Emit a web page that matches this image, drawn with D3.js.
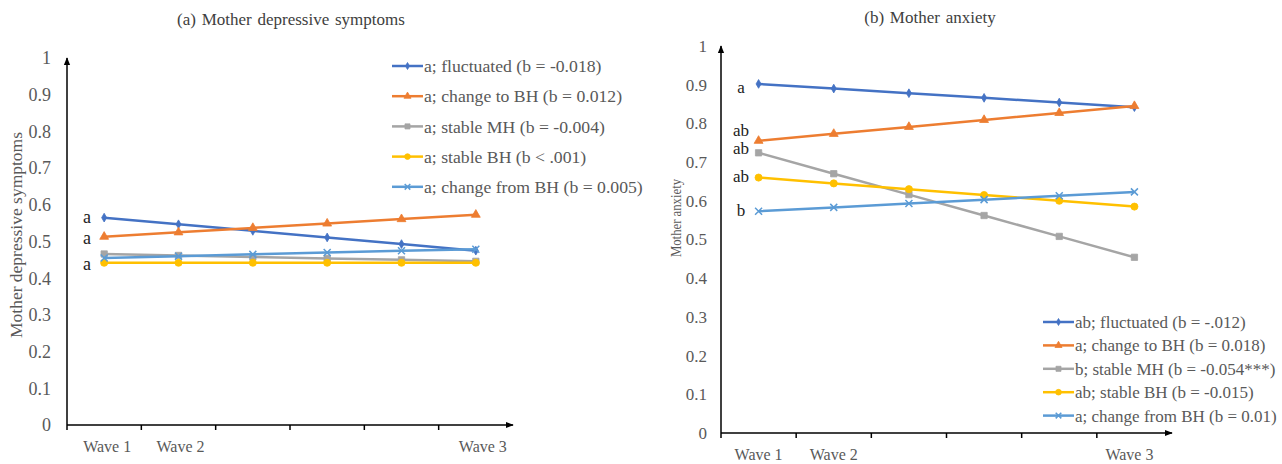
<!DOCTYPE html>
<html><head><meta charset="utf-8">
<script src="https://cdn.jsdelivr.net/npm/d3@7"></script>
<style>body{margin:0;background:#fff}svg{display:block}</style>
</head><body>
<svg id="c" width="1282" height="464"></svg>
<script>
const waveLabels = ["Wave 1","Wave 2","","","","Wave 3"];
const yTicks = [0,0.1,0.2,0.3,0.4,0.5,0.6,0.7,0.8,0.9,1];
const colors = ["#4472C4","#ED7D31","#A5A5A5","#FFC000","#5B9BD5"];
const symbols = ["diamond","triangle","square","circle","cross"];

const depNames = ["a; fluctuated (b = -0.018)","a; change to BH (b = 0.012)","a; stable MH (b = -0.004)","a; stable BH (b < .001)","a; change from BH (b = 0.005)"];
const depFluct = [0.565,0.547,0.529,0.511,0.493,0.475];
const depToBH = [0.513,0.525,0.537,0.549,0.561,0.573];
const depStableMH = [0.466,0.462,0.458,0.454,0.450,0.446];
const depStableBH = [0.442,0.442,0.442,0.442,0.442,0.442];
const depFromBH = [0.455,0.460,0.465,0.470,0.475,0.479];
const depGroupLabels = [{t:"a",v:0.567},{t:"a",v:0.510},{t:"a",v:0.440}];

const anxNames = ["ab; fluctuated (b = -.012)","a; change to BH (b = 0.018)","b; stable MH (b = -0.054***)","ab; stable BH (b = -0.015)","a; change from BH (b = 0.01)"];
const anxFluct = [0.902,0.890,0.878,0.866,0.854,0.842];
const anxToBH = [0.755,0.773,0.791,0.809,0.827,0.845];
const anxStableMH = [0.724,0.670,0.616,0.562,0.508,0.454];
const anxStableBH = [0.660,0.645,0.630,0.615,0.600,0.585];
const anxFromBH = [0.573,0.583,0.593,0.603,0.613,0.623];
const anxGroupLabels = [{t:"a",v:0.893},{t:"ab",v:0.783},{t:"ab",v:0.736},{t:"ab",v:0.664},{t:"b",v:0.575}];

const svg = d3.select("#c");
const defs = svg.append("defs");
defs.append("marker").attr("id","arr").attr("viewBox","0 0 10 10").attr("refX",9).attr("refY",5)
  .attr("markerWidth",8).attr("markerHeight",8).attr("markerUnits","userSpaceOnUse").attr("orient","auto")
  .append("path").attr("d","M0,1 L10,5 L0,9 Z").attr("fill","#000");

const FONT = "'Liberation Serif','Times New Roman',serif";

function panel(cfg){
  const g = svg.append("g");
  const x = d3.scaleBand().domain(d3.range(waveLabels.length)).range([cfg.x0, cfg.x1]);
  const y = d3.scaleLinear().domain([0,1]).range([cfg.y0, cfg.y1]);
  g.append("text").attr("x",cfg.titleX).attr("y",cfg.titleY).attr("text-anchor","middle")
    .attr("font-family",FONT).attr("font-size",cfg.titleFont).attr("fill","#404040").attr("word-spacing",1.5).text(cfg.title);
  g.selectAll(".yt").data(yTicks).join("text")
    .attr("x",cfg.tickRight).attr("y",d=>y(d)).attr("dy","0.35em").attr("text-anchor","end")
    .attr("font-family",FONT).attr("font-size",cfg.tickFont).attr("fill","#595959").text(d=>d3.format("")(+d.toFixed(1)));
  g.append("text").attr("transform",`translate(${cfg.ylabX},${cfg.ylabY}) rotate(-90) scale(${cfg.ylabSx},1)`).attr("text-anchor","middle")
    .attr("font-family",FONT).attr("font-size",cfg.ylabFont).attr("fill","#595959").text(cfg.ylab);
  g.append("line").attr("x1",cfg.x0).attr("x2",cfg.x0).attr("y1",cfg.y0).attr("y2",y(1))
    .attr("stroke","#000").attr("stroke-width",1.5).attr("marker-end","url(#arr)");
  g.append("line").attr("x1",cfg.x0).attr("x2",cfg.x1).attr("y1",cfg.y0).attr("y2",cfg.y0)
    .attr("stroke","#000").attr("stroke-width",1.5).attr("marker-end","url(#arr)");
  const tickXs = d3.range(waveLabels.length).map(i=>x(i));
  g.selectAll(".xt").data(tickXs).join("line").attr("x1",d=>d).attr("x2",d=>d)
    .attr("y1",cfg.y0).attr("y2",cfg.y0+5).attr("stroke","#000").attr("stroke-width",1.5);
  g.selectAll(".xl").data(waveLabels).join("text")
    .attr("x",(d,i)=>x(i)+x.bandwidth()/2+cfg.labShift[i]).attr("y",cfg.y0+27).attr("text-anchor","middle")
    .attr("font-family",FONT).attr("font-size",16).attr("fill","#595959").text(d=>d);
  const line = d3.line().x((d,i)=>x(i)+x.bandwidth()/2).y(d=>y(d));
  cfg.series.forEach((s,k)=>{
    g.append("path").datum(s).attr("d",line).attr("fill","none").attr("stroke",colors[k]).attr("stroke-width",2.5);
    s.forEach((v,i)=>drawMarker(g, symbols[k], x(i)+x.bandwidth()/2, y(v), colors[k], 1));
  });
  g.selectAll(".gl").data(cfg.groupLabels).join("text")
    .attr("x",cfg.glX).attr("y",d=>y(d.v)).attr("dy","0.35em").attr("text-anchor","middle")
    .attr("font-family",FONT).attr("font-size",cfg.glFont).attr("fill","#222").text(d=>d.t);
  const lg = g.append("g").attr("transform",`translate(${cfg.legX},${cfg.legY})`);
  cfg.names.forEach((n,k)=>{
    const r = lg.append("g").attr("transform",`translate(0,${k*cfg.legDy})`);
    r.append("line").attr("x1",0).attr("x2",31).attr("y1",0).attr("y2",0).attr("stroke",colors[k]).attr("stroke-width",2.5);
    drawMarker(r, symbols[k], 15.5, 0, colors[k], 0.8);
    r.append("text").attr("x",32).attr("y",0).attr("dy","0.35em").attr("font-family",FONT)
      .attr("font-size",cfg.legFont).attr("fill","#595959").text(n);
  });
}

function drawMarker(g, sym, cx, cy, col, sc){
  if(sym==="cross"){
    const s=3.5*sc;
    g.append("path").attr("d",`M${cx-s},${cy-s}L${cx+s},${cy+s}M${cx-s},${cy+s}L${cx+s},${cy-s}`)
      .attr("stroke",col).attr("stroke-width",1.5).attr("fill","none");
    return;
  }
  const sizes={diamond:22,triangle:34,square:40,circle:40};
  const t={diamond:d3.symbolDiamond,triangle:d3.symbolTriangle,square:d3.symbolSquare,circle:d3.symbolCircle}[sym];
  g.append("path").attr("d",d3.symbol().type(t).size(sizes[sym]*sc*sc)()).attr("transform",`translate(${cx},${cy})`)
    .attr("fill",col).attr("stroke",col).attr("stroke-width",0.8);
}

panel({x0:67,x1:513,y0:425,y1:58,title:"(a) Mother depressive symptoms",titleX:291,titleY:25,titleFont:17,
  tickRight:51,tickFont:18,
  ylab:"Mother depressive symptoms",ylabX:22,ylabY:235,ylabFont:17.5,ylabSx:1,labShift:[3,2,0,0,0,7],
  series:[depFluct,depToBH,depStableMH,depStableBH,depFromBH],groupLabels:depGroupLabels,glX:87,glFont:18,
  names:depNames,legX:392,legY:66,legDy:30.2,legFont:17.7});
panel({x0:721,x1:1172,y0:433,y1:46,title:"(b) Mother anxiety",titleX:930,titleY:23,titleFont:17,
  tickRight:707,tickFont:17,
  ylab:"Mother anxiety",ylabX:681,ylabY:218,ylabFont:15,ylabSx:0.85,labShift:[0,0,0,0,0,-5],
  series:[anxFluct,anxToBH,anxStableMH,anxStableBH,anxFromBH],groupLabels:anxGroupLabels,glX:741,glFont:17,
  names:anxNames,legX:1043,legY:322,legDy:23.4,legFont:17});
</script>
</body></html>
